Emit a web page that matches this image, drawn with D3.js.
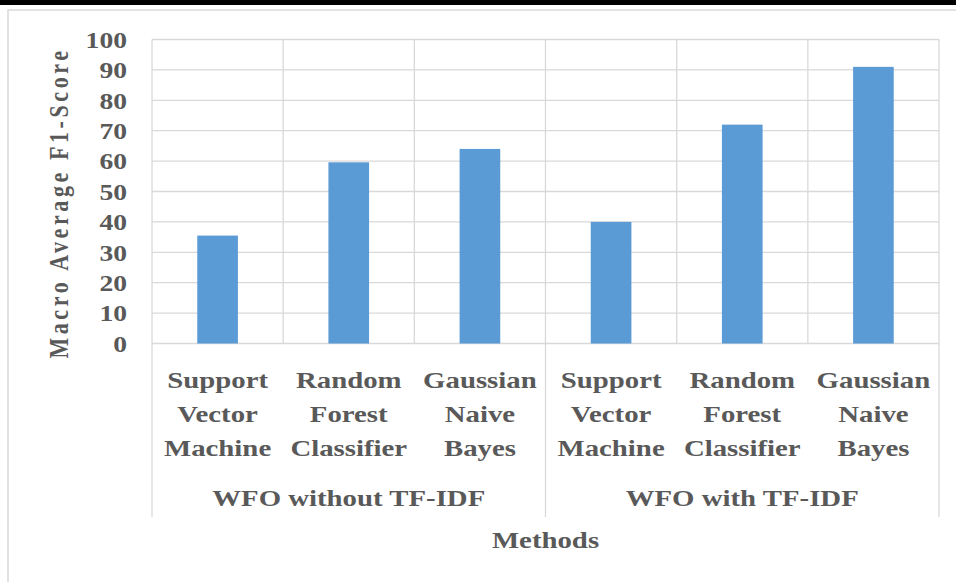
<!DOCTYPE html>
<html>
<head>
<meta charset="utf-8">
<script src="https://cdn.jsdelivr.net/npm/d3@7"></script>
<style>
  html, body { margin: 0; padding: 0; background: #fff; }
  svg { display: block; }
  text { font-family: "Liberation Serif", "Times New Roman", serif; font-weight: bold; fill: #595959; }
</style>
</head>
<body>
<svg id="chart" width="956" height="582"></svg>
<script>
// Macro average F1-score per classifier, grouped by feature setup
const groups = ["WFO without TF-IDF", "WFO with TF-IDF"];
const methods = [
  ["Support", "Vector", "Machine"],
  ["Random", "Forest", "Classifier"],
  ["Gaussian", "Naive", "Bayes"]
];
const withoutTfidf = [35.5, 59.6, 64];
const withTfidf = [40, 72, 91];
const yTicks = [0, 10, 20, 30, 40, 50, 60, 70, 80, 90, 100];
const yTitle = "Macro Average F1-Score";
const xTitle = "Methods";

const rows = [];
[withoutTfidf, withTfidf].forEach((vals, g) => {
  vals.forEach((v, i) => rows.push({ key: g + "-" + i, group: g, lines: methods[i], value: v }));
});

const svg = d3.select("#chart");
const W = 956, H = 582;
const plot = { left: 152, right: 939, top: 39.5, bottom: 343.5 };
const SX = 1.2; // horizontal stretch of the label type

// page frame: heavy rule on top, light border round the chart
svg.append("rect").attr("x", 0).attr("y", 0).attr("width", W).attr("height", 5).attr("fill", "#000");
svg.append("rect").attr("x", 8).attr("y", 10).attr("width", W + 10).attr("height", H + 10)
  .attr("fill", "none").attr("stroke", "#d9d9d9").attr("stroke-width", 1.5);

const x = d3.scaleBand().domain(rows.map(d => d.key)).range([plot.left, plot.right]).padding(0);
const y = d3.scaleLinear().domain([0, 100]).range([plot.bottom, plot.top]);
const barW = x.bandwidth() * 0.31;

// horizontal gridlines
svg.append("g").selectAll("line").data(yTicks).join("line")
  .attr("x1", plot.left).attr("x2", plot.right)
  .attr("y1", d => y(d)).attr("y2", d => y(d))
  .attr("stroke", "#d9d9d9").attr("stroke-width", 1.3);

// vertical category dividers inside the plot
const edges = rows.map(d => x(d.key)).concat([plot.right]);
svg.append("g").selectAll("line").data(edges).join("line")
  .attr("x1", d => d).attr("x2", d => d)
  .attr("y1", plot.top).attr("y2", plot.bottom)
  .attr("stroke", "#d9d9d9").attr("stroke-width", 1.3);

// group dividers continue through the label area
const groupEdges = [plot.left, x("1-0"), plot.right];
svg.append("g").selectAll("line").data(groupEdges).join("line")
  .attr("x1", d => d).attr("x2", d => d)
  .attr("y1", plot.bottom).attr("y2", 517)
  .attr("stroke", "#d9d9d9").attr("stroke-width", 1.3);

// bars
svg.append("g").selectAll("rect").data(rows).join("rect")
  .attr("x", d => x(d.key) + x.bandwidth() / 2 - barW / 2)
  .attr("width", barW)
  .attr("y", d => y(d.value))
  .attr("height", d => y(0) - y(d.value))
  .attr("fill", "#5b9bd5");

// y tick labels
const yAxis = d3.axisLeft(y).tickValues(yTicks).tickSize(0).tickPadding(0);
const gy = svg.append("g").attr("transform", "translate(127,0)").call(yAxis);
gy.select(".domain").remove();
gy.selectAll(".tick text")
  .attr("x", 0).attr("dy", "0.34em")
  .attr("font-size", 23)
  .attr("fill", "#595959")
  .attr("font-family", "Liberation Serif, serif")
  .attr("transform", `scale(${SX},1)`);

// category labels (three lines each)
const baselines = [388, 422, 456];
const cat = svg.append("g").selectAll("g").data(rows).join("g")
  .attr("transform", d => `translate(${x(d.key) + x.bandwidth() / 2},0) scale(${SX},1)`);
cat.selectAll("text").data(d => d.lines.map((l, i) => ({ l, i }))).join("text")
  .attr("x", 0).attr("y", d => baselines[d.i])
  .attr("text-anchor", "middle").attr("font-size", 24)
  .text(d => d.l);

// group labels
svg.append("g").selectAll("text").data(groups).join("text")
  .attr("transform", (d, g) => {
    const a = x(g + "-0"), b = x(g + "-2") + x.bandwidth();
    return `translate(${(a + b) / 2},506) scale(${SX},1)`;
  })
  .attr("text-anchor", "middle").attr("font-size", 24)
  .text(d => d);

// axis titles
svg.append("text")
  .attr("transform", `translate(${(plot.left + plot.right) / 2},548) scale(${SX},1)`)
  .attr("text-anchor", "middle").attr("font-size", 24)
  .text(xTitle);

svg.append("text")
  .attr("transform", "translate(68,203) rotate(-90) scale(1,1.2)")
  .attr("text-anchor", "middle").attr("font-size", 22)
  .attr("letter-spacing", 3.6)
  .text(yTitle);
</script>
</body>
</html>
